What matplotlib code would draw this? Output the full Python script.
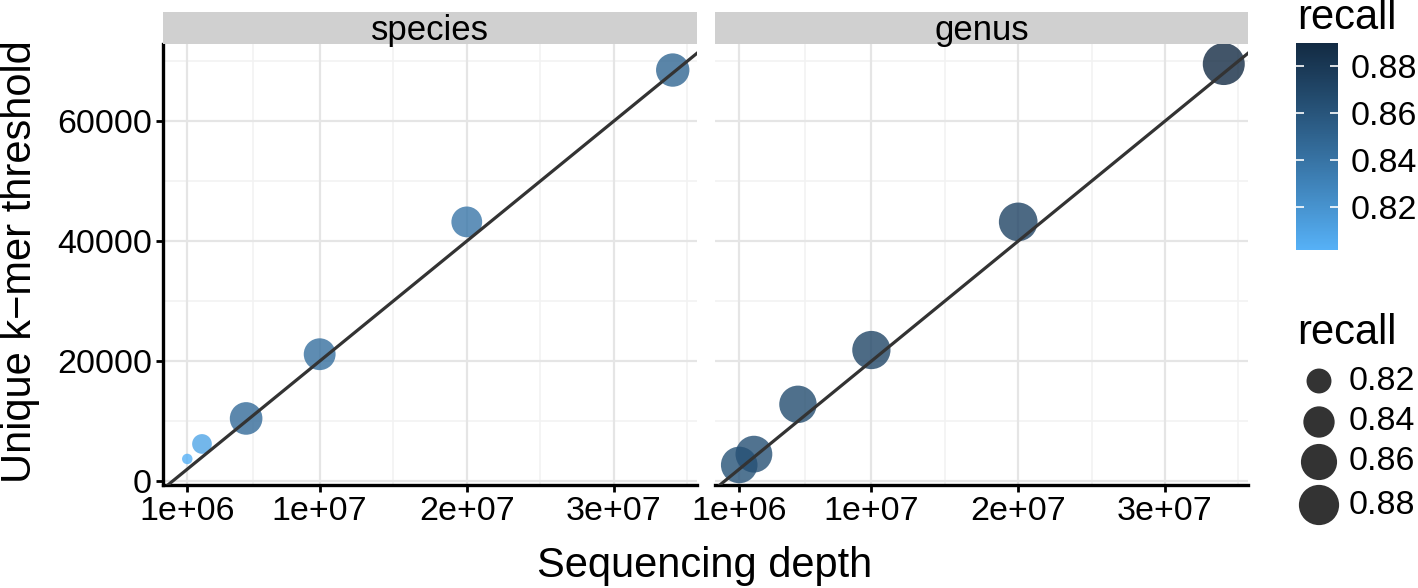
import numpy as np
import matplotlib
matplotlib.use("Agg")
import matplotlib.pyplot as plt
from matplotlib.colors import LinearSegmentedColormap, Normalize
from matplotlib.cm import ScalarMappable

plt.rcParams['font.family'] = ['Liberation Sans', 'DejaVu Sans']

# ---------------- data ----------------
panels = ["species", "genus"]
depth = [1e6, 2e6, 5e6, 1e7, 2e7, 3.4e7]
species_threshold = [3700, 6200, 10450, 21150, 43200, 68500]
genus_threshold = [2700, 4500, 12800, 21850, 43200, 69500]
species_recall = [0.8015, 0.809, 0.845, 0.842, 0.838, 0.848]
genus_recall = [0.862, 0.863, 0.866, 0.870, 0.872, 0.8897]
line_slope = [0.002, 0.002]
line_intercept = [0.0, 0.0]
x_ticks = [1e6, 1e7, 2e7, 3e7]
x_ticklabels = ["1e+06", "1e+07", "2e+07", "3e+07"]
x_minor = [5.5e6, 1.5e7, 2.5e7, 3.5e7]
y_ticks = [0, 20000, 40000, 60000]
y_minor = [10000, 30000, 50000, 70000]
legend_breaks = [0.82, 0.84, 0.86, 0.88]

thresholds = [species_threshold, genus_threshold]
recalls = [species_recall, genus_recall]

# ---------------- colour scale (ggplot-like Lab gradient) ----------------
def srgb_to_lab(rgb):
    rgb = np.asarray(rgb, float)
    lin = np.where(rgb <= 0.04045, rgb / 12.92, ((rgb + 0.055) / 1.055) ** 2.4)
    M = np.array([[0.4124, 0.3576, 0.1805], [0.2126, 0.7152, 0.0722], [0.0193, 0.1192, 0.9505]])
    xyz = M @ lin / np.array([0.95047, 1.0, 1.08883])
    f = np.where(xyz > 0.008856, np.cbrt(xyz), 7.787 * xyz + 16 / 116)
    return np.array([116 * f[1] - 16, 500 * (f[0] - f[1]), 200 * (f[1] - f[2])])

def lab_to_srgb(lab):
    L, a, b = lab
    fy = (L + 16) / 116
    fx = fy + a / 500
    fz = fy - b / 200
    f = np.array([fx, fy, fz])
    xyz = np.where(f ** 3 > 0.008856, f ** 3, (f - 16 / 116) / 7.787) * np.array([0.95047, 1.0, 1.08883])
    Minv = np.array([[3.2406, -1.5372, -0.4986], [-0.9689, 1.8758, 0.0415], [0.0557, -0.2040, 1.0570]])
    lin = Minv @ xyz
    rgb = np.where(lin <= 0.0031308, 12.92 * lin, 1.055 * np.clip(lin, 0, None) ** (1 / 2.4) - 0.055)
    return np.clip(rgb, 0, 1)

low = np.array([0x56, 0xB1, 0xF7]) / 255
high = np.array([0x13, 0x2B, 0x43]) / 255
lab_lo, lab_hi = srgb_to_lab(low), srgb_to_lab(high)
stops = [lab_to_srgb(lab_lo + t * (lab_hi - lab_lo)) for t in np.linspace(0, 1, 21)]
cmap = LinearSegmentedColormap.from_list("gg", stops)

all_recall = np.array(species_recall + genus_recall)
vmin, vmax = all_recall.min(), all_recall.max()
norm = Normalize(vmin, vmax)

def diam_px(v):
    r = (np.asarray(v) - vmin) / (vmax - vmin)
    return 10.5 + 31.5 * np.sqrt(np.clip(r, 0, 1))

def s_area(v):
    return (diam_px(v) * 72 / 100) ** 2

# ---------------- layout ----------------
W, H = 1418, 588
fig = plt.figure(figsize=(W / 100, H / 100), dpi=100)

def ax_px(l, t, r, b):
    return fig.add_axes([l / W, 1 - b / H, (r - l) / W, (b - t) / H])

panel_px = [(163, 44, 697, 485), (715, 44, 1248, 485)]
strip_px = [(163, 12, 697, 44), (715, 12, 1248, 44)]

x_all = np.array(depth)
xr = x_all.max() - x_all.min()
xlim = (x_all.min() - 0.05 * xr, x_all.max() + 0.05 * xr)
y_all = np.array(species_threshold + genus_threshold)
yr = y_all.max() - y_all.min()
ylim = (y_all.min() - 0.05 * yr, y_all.max() + 0.05 * yr)

tick_fs = 24.5
title_fs = 30
for i, name in enumerate(panels):
    ax = ax_px(*panel_px[i])
    ax.set_xlim(*xlim)
    ax.set_ylim(*ylim)
    ax.set_facecolor("white")
    for v in x_minor:
        ax.axvline(v, color="#F2F2F2", lw=1.2, zorder=0)
    for v in y_minor:
        ax.axhline(v, color="#F2F2F2", lw=1.2, zorder=0)
    for v in x_ticks:
        ax.axvline(v, color="#E5E5E5", lw=1.6, zorder=0)
    for v in y_ticks:
        ax.axhline(v, color="#E5E5E5", lw=1.6, zorder=0)

    ax.scatter(depth, thresholds[i], s=s_area(recalls[i]), c=recalls[i], cmap=cmap, norm=norm,
               alpha=0.8, linewidths=0, zorder=2)
    ax.axline((0, line_intercept[i]), slope=line_slope[i], color="#333333", lw=2.3, zorder=3)

    for sp in ["top", "right"]:
        ax.spines[sp].set_visible(False)
    ax.spines["bottom"].set_linewidth(2.4)
    ax.spines["bottom"].set_color("black")
    ax.set_xticks(x_ticks)
    ax.set_xticklabels(x_ticklabels)
    ax.set_yticks(y_ticks)
    ax.tick_params(axis="both", labelsize=tick_fs, width=2, length=5, color="black", pad=3)
    if i == 0:
        ax.spines["left"].set_linewidth(2.4)
        ax.spines["left"].set_color("black")
        ax.set_yticklabels([str(v) for v in y_ticks])
    else:
        ax.spines["left"].set_visible(False)
        ax.tick_params(axis="y", left=False, labelleft=False)

    sax = ax_px(*strip_px[i])
    sax.set_facecolor("#D0D0D0")
    sax.set_xticks([]); sax.set_yticks([])
    for sp in sax.spines.values():
        sp.set_visible(False)
    sax.text(0.5, 0.42, name, ha="center", va="center", fontsize=25, transform=sax.transAxes)

fig.text(705 / W, 1 - 566 / H, "Sequencing depth", ha="center", va="center", fontsize=title_fs)
fig.text(20 / W, 1 - 262 / H, "Unique k\u2212mer threshold", ha="center", va="center",
         rotation=90, fontsize=title_fs)

# ---------------- colour bar legend ----------------
fig.text(1297 / W, 1 - 18 / H, "recall", ha="left", va="center", fontsize=title_fs)
cax = ax_px(1296, 43, 1338, 250)
cb = fig.colorbar(ScalarMappable(norm=norm, cmap=cmap), cax=cax)
cb.outline.set_visible(False)
cb.set_ticks(legend_breaks)
cb.set_ticklabels([f"{b:.2f}" for b in legend_breaks])
cax.tick_params(length=0, labelsize=tick_fs, pad=9)
tr = cax.get_yaxis_transform()
cax.hlines(legend_breaks, 0, 0.2, colors="white", lw=1.2, transform=tr)
cax.hlines(legend_breaks, 0.8, 1.0, colors="white", lw=1.2, transform=tr)

# ---------------- size legend ----------------
fig.text(1297 / W, 1 - 333 / H, "recall", ha="left", va="center", fontsize=title_fs)
lax = ax_px(1280, 300, 1418, 588)
lax.set_xlim(1280, 1418)
lax.set_ylim(588, 300)
lax.axis("off")
ys = [381, 422, 462, 505]
lax.scatter([1319] * len(legend_breaks), ys, s=s_area(legend_breaks), color="#333333", linewidths=0)
for yv, b in zip(ys, legend_breaks):
    lax.text(1349, yv, f"{b:.2f}", ha="left", va="center", fontsize=tick_fs)

fig.savefig("out.png", dpi=100)
